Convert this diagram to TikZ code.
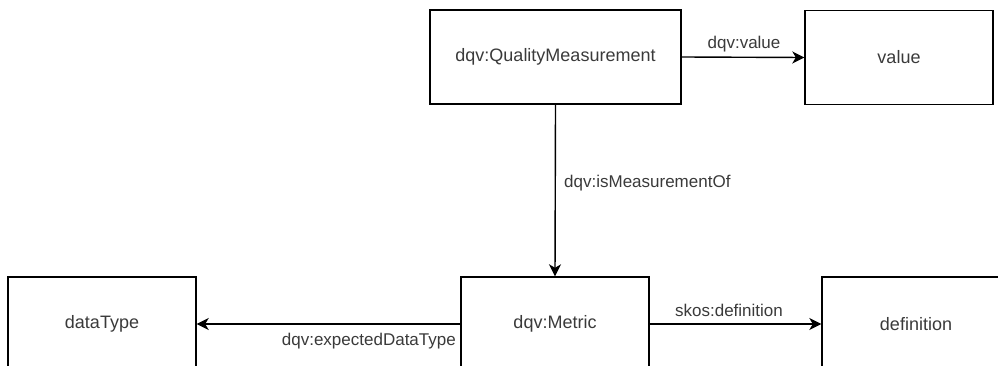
\documentclass[tikz,border=0pt]{standalone}
\usepackage{fontspec}
\setmainfont{Liberation Sans}
\usetikzlibrary{arrows.meta}
\definecolor{txt}{HTML}{3A3A3A}
\tikzset{
  box/.style={draw=black, line width=1.4pt, rectangle, minimum height=94pt, inner sep=0pt,
    font=\fontsize{18}{20}\selectfont, text=txt},
  elabel/.style={font=\fontsize{17}{19}\selectfont, text=txt, inner sep=0pt},
  conn/.style={line width=1.4pt, -{Stealth[length=12pt,width=12pt,inset=3.5pt]}}
}
\begin{document}
\begin{tikzpicture}[x=1pt,y=-1pt]
\useasboundingbox (0,0) rectangle (998,366);
\clip (0,0) rectangle (998,366);
\node[box, minimum width=251pt] (qm) at (555.5,57) {dqv:QualityMeasurement};
\node[box, minimum width=188pt] (val) at (899,57.5) {value};
\node[box, minimum width=188pt] (met) at (555,324) {dqv:Metric};
\node[box, minimum width=188pt] (dt) at (102,324) {dataType};
\node[box, minimum width=188pt] (def) at (916,324) {definition};
\draw[conn] (qm.east) -- (val.west);
\draw[conn] (qm.south) -- (met.north);
\draw[conn] (met.west) -- (dt.east);
\draw[conn] (met.east) -- (def.west);
\node[elabel] (l1) at (744,44) {dqv:value};
\node[elabel, anchor=west] (l2) at (564,183) {dqv:isMeasurementOf};
\node[elabel, anchor=east] (l3) at (456,341) {dqv:expectedDataType};
\node[elabel] (l4) at (729,310) {skos:definition};
\end{tikzpicture}
\end{document}
